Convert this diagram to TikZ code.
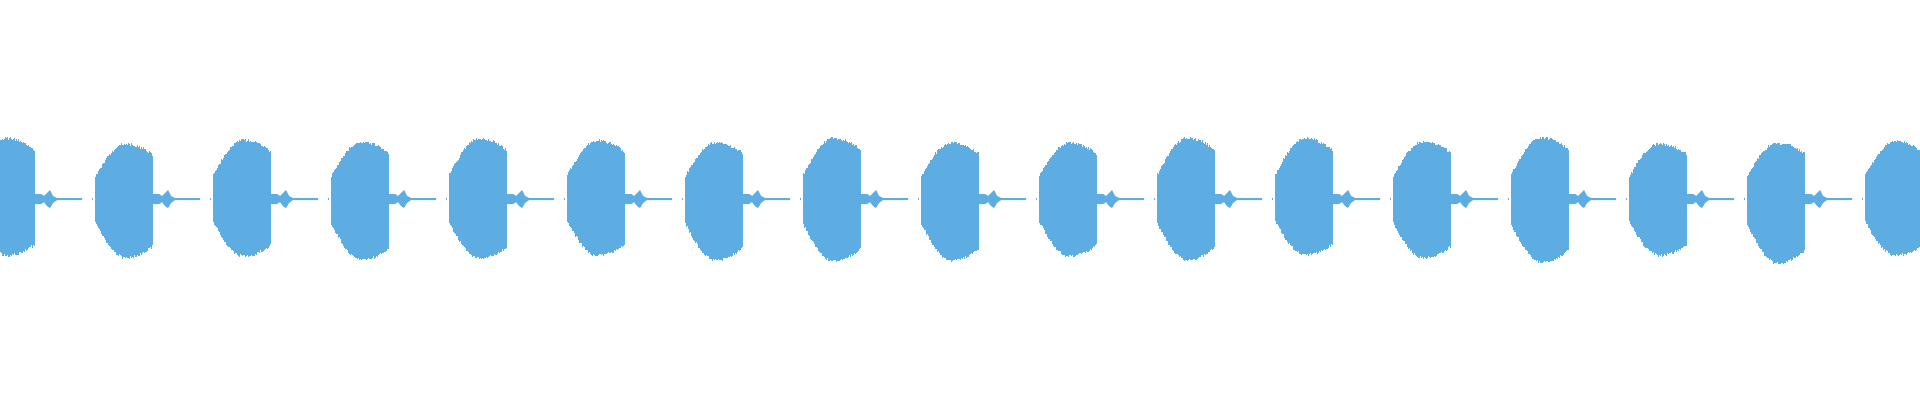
\documentclass[tikz,border=0pt]{standalone}
\definecolor{wave}{HTML}{5DADE2}
\begin{document}
\begin{tikzpicture}[x=0.01cm,y=-0.01cm]
\useasboundingbox (0,0) rectangle (1920,400);
\pgfmathsetseed{7}
\foreach \k in {-1,...,15}{
  \pgfmathsetmacro{\b}{95+118*\k}
  \pgfmathsetmacro{\s}{0.92+0.16*rnd}
  \pgfmathsetmacro{\t}{0.92+0.16*rnd}
  \foreach \u in {0,...,57}{
    \pgfmathsetmacro{\P}{\u<=30 ? 22+34*sin(3*\u) : 56-11*((\u-30)/27)^2}
    \pgfmathsetmacro{\A}{\P*\s+3*rnd}
    \pgfmathsetmacro{\B}{\P*1.04*\t+3*rnd}
    \fill[wave] (\b+\u,199-\A) rectangle (\b+\u+1.3,199+\B);
  }
  \fill[wave] (\b+57,194) -- (\b+64,194) -- (\b+67,196) -- (\b+71,192) -- (\b+73,190)
     -- (\b+76,196) -- (\b+80,198) -- (\b+105,198) -- (\b+105,200) -- (\b+80,200)
     -- (\b+76,203) -- (\b+73,208) -- (\b+70,206) -- (\b+67,202) -- (\b+64,204) -- (\b+57,204) -- cycle;
  \fill[wave] (\b-3,198) rectangle (\b-2,200);
}
\end{tikzpicture}
\end{document}
